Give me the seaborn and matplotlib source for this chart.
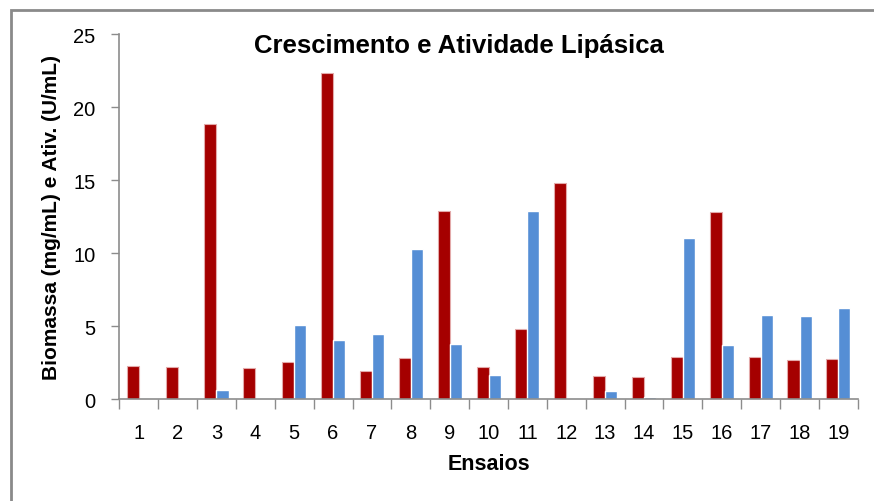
import numpy as np
import pandas as pd
import matplotlib.pyplot as plt
import matplotlib.ticker as ticker
from matplotlib.patches import Rectangle
import seaborn as sns

# ---- dados ----
ensaios = [str(i) for i in range(1, 20)]
biomassa = [2.3, 2.2, 18.85, 2.15, 2.55, 22.35, 1.95, 2.8, 12.9, 2.2,
            4.8, 14.8, 1.6, 1.5, 2.9, 12.85, 2.9, 2.65, 2.75]
atividade = [0.0, 0.0, 0.65, 0.0, 5.05, 4.05, 4.45, 10.3, 3.8, 1.65,
             12.9, 0.0, 0.55, 0.15, 11.05, 3.7, 5.75, 5.7, 6.25]
series = ["Biomassa", "Atividade"]
cores = ["#A50000", "#558ED5"]

df = pd.DataFrame({
    "Ensaio": ensaios * 2,
    "Serie": [series[0]] * len(ensaios) + [series[1]] * len(ensaios),
    "Valor": biomassa + atividade,
})

sns.set_style("white")
plt.rcParams["font.family"] = ["Liberation Sans", "DejaVu Sans"]
plt.rcParams["text.color"] = "black"
plt.rcParams["axes.labelcolor"] = "black"
plt.rcParams["xtick.labelcolor"] = "black"
plt.rcParams["ytick.labelcolor"] = "black"

fig = plt.figure(figsize=(8.74, 5.02), dpi=100)
ax = fig.add_axes([0.1365, 0.203, 0.845, 0.727])

sns.barplot(data=df, x="Ensaio", y="Valor", hue="Serie", order=ensaios,
            hue_order=series, palette=cores, width=0.62, gap=0,
            saturation=1, legend=False, ax=ax)

# borda clara nas barras vermelhas
for p in ax.patches[:len(ensaios)]:
    p.set_edgecolor("#E3A9A9")
    p.set_linewidth(0.8)

ax.set_xlim(-0.5, len(ensaios) - 0.5)
ax.set_ylim(0, 25)
ax.yaxis.set_major_locator(ticker.MultipleLocator(5))

cinza = "#8C8C8C"
for lado in ["top", "right"]:
    ax.spines[lado].set_visible(False)
for lado in ["left", "bottom"]:
    ax.spines[lado].set_color(cinza)
    ax.spines[lado].set_linewidth(1.2)

ax.xaxis.set_minor_locator(ticker.FixedLocator(np.arange(-0.5, len(ensaios), 1)))
ax.tick_params(axis="x", which="major", bottom=True, length=0, pad=17,
               labelsize=14.5, labelcolor="black")
ax.tick_params(axis="x", which="minor", bottom=True, length=7, color=cinza,
               width=1, direction="out")
ax.tick_params(axis="y", left=True, length=6, color=cinza, width=1, direction="out",
               pad=11, labelsize=14.5, labelcolor="black")

ax.set_xlabel("Ensaios", fontsize=15.5, fontweight="bold", labelpad=8, color="black")
ax.set_ylabel("Biomassa (mg/mL) e Ativ. (U/mL)", fontsize=15,
              fontweight="bold", labelpad=9, color="black")

fig.text(459 / 874, 1 - 46 / 502, "Crescimento e Atividade Lipásica",
         ha="center", va="center", fontsize=18.5, fontweight="bold", color="black")

# moldura cinza da figura (cortada à direita e embaixo)
fig.patches.append(Rectangle((11 / 874, -0.1), 1.2, 1 - 11 / 502 + 0.1,
                             transform=fig.transFigure, fill=False,
                             edgecolor="#8A8A8A", linewidth=2, clip_on=False))

fig.savefig("out.png", dpi=100)
